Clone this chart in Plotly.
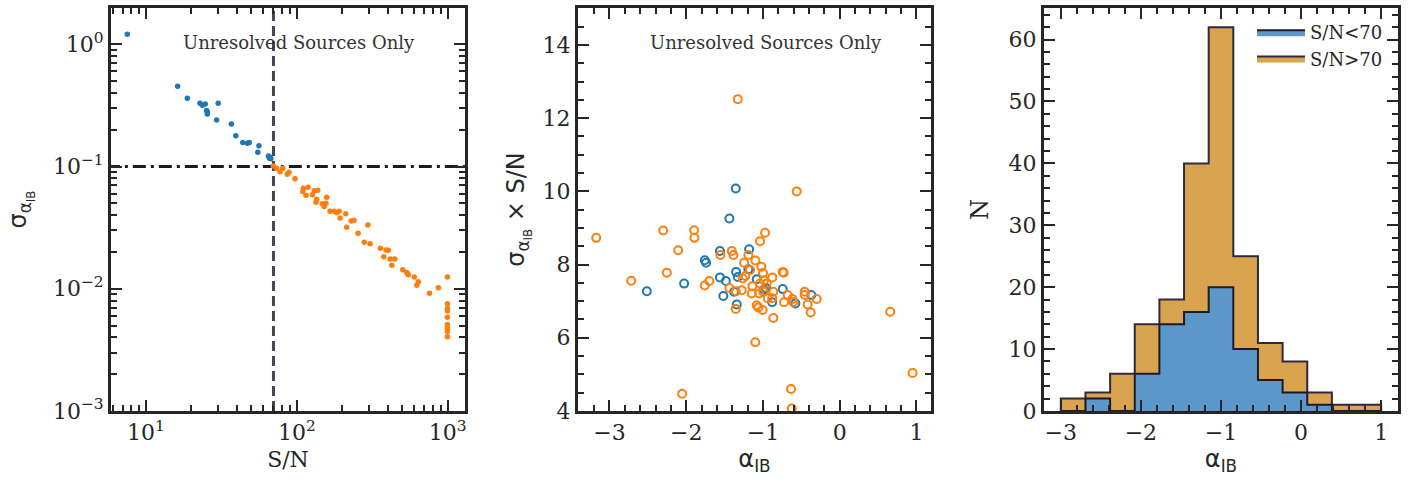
import numpy as np
import plotly.graph_objects as go

# ---------------- data ----------------
# Left panel: S/N vs sigma_alpha_IB
sn_low = [7.52, 16.2, 18.8, 22.8, 23.6, 24.7, 25.2, 25.5, 25.5, 30.1, 29.4, 36.8, 39.4, 43.8,
          47.0, 48.4, 56.1, 55.1, 64.8, 65.9, 67.3, 66.5]
sig_low = [1.21, 0.454, 0.362, 0.33, 0.317, 0.325, 0.288, 0.269, 0.28, 0.33, 0.240, 0.223, 0.179,
           0.157, 0.155, 0.157, 0.148, 0.131, 0.122, 0.117, 0.116, 0.119]
sn_high = [69.8, 73.5, 77.4, 80.7, 86.5, 88.7, 97.2, 110.5, 109.5, 118.6, 115, 126.8, 130.7, 137.6,
           135.5, 134, 157.8, 147.6, 152, 156, 166, 177, 184, 190.6, 193.6, 211, 214, 229, 239,
           254.5, 296, 280, 306, 358, 390, 404, 377, 415, 446, 426, 504, 535, 549, 542, 601, 624,
           639, 757, 868, 996, 996, 996, 996, 996, 996, 996, 996, 996]
sig_high = [0.101, 0.0968, 0.0908, 0.0968, 0.0865, 0.0898, 0.0796, 0.0665, 0.0624, 0.0677, 0.0582,
            0.0589, 0.0635, 0.064, 0.054, 0.051, 0.0561, 0.0497, 0.047, 0.05, 0.0431, 0.043, 0.0418,
            0.043, 0.038, 0.041, 0.0319, 0.0359, 0.0363, 0.0285, 0.0333, 0.0240, 0.0233, 0.0215,
            0.0208, 0.0207, 0.0183, 0.0175, 0.0175, 0.0156, 0.0143, 0.0136, 0.013, 0.0133, 0.0125,
            0.0107, 0.0114, 0.0092, 0.0102, 0.0125, 0.00753, 0.0069, 0.0066, 0.00586, 0.0051,
            0.00476, 0.00447, 0.00405]

sn_cut = 70
sig_cut = 0.1

# Middle panel: alpha_IB vs sigma*S/N
a_low = [-1.354, -1.437, -1.56, -1.18, -1.758, -1.741, -1.35, -1.19, -2.513, -2.027, -1.56, -1.484,
         -1.328, -1.376, -1.516, -1.341, -1.081, -0.986, -0.96, -0.88, -0.742, -0.578, -0.37]
s_low = [10.08, 9.26, 8.37, 8.42, 8.12, 8.05, 7.80, 7.87, 7.27, 7.48, 7.65, 7.55, 7.66, 7.26, 7.14,
         6.91, 7.60, 7.32, 7.36, 6.97, 7.33, 6.94, 7.17]
a_high = [-1.328, -0.56, -3.173, -2.30, -1.897, -1.893, -0.973, -1.038, -2.105, -1.406, -1.555,
          -1.385, -1.19, -1.246, -1.099, -1.168, -1.021, -0.999, -0.742, -0.73, -2.253, -2.717,
          -1.758, -1.698, -1.263, -1.229, -1.276, -1.354, -1.437, -1.354, -1.138, -1.146, -1.038,
          -0.986, -0.951, -0.995, -1.05, -0.878, -0.865, -0.937, -0.88, -1.081, -1.06, -1.003,
          -0.865, -1.099, -0.677, -0.725, -0.617, -0.604, -0.456, -0.456, -0.30, -0.417, -0.378,
          0.659, 0.95, -0.634, -2.053, -0.625]
s_high = [12.52, 10.0, 8.73, 8.93, 8.94, 8.73, 8.87, 8.64, 8.39, 8.37, 8.26, 8.26, 8.26, 8.05, 8.11,
          7.85, 7.94, 7.77, 7.80, 7.78, 7.78, 7.56, 7.43, 7.55, 7.62, 7.69, 7.30, 7.27, 7.36, 6.79,
          7.41, 7.21, 7.48, 7.57, 7.48, 7.26, 7.21, 7.65, 7.26, 7.08, 7.08, 6.89, 6.83, 6.76, 6.54,
          5.88, 7.17, 6.97, 7.06, 6.98, 7.26, 7.17, 7.06, 6.91, 6.69, 6.71, 5.04, 4.60, 4.47, 4.07]

# Right panel: histogram of alpha_IB (13 bins from -3 to 1)
bin_lo, bin_hi, n_bins = -3.0, 1.0, 13
counts_total = [2, 3, 6, 14, 18, 40, 62, 25, 11, 8, 3, 1, 1]
counts_low = [0, 2, 0, 6, 14, 16, 20, 10, 5, 3, 1, 0, 0]

# ---------------- styling ----------------
BLUE = "#1f77b4"
ORANGE = "#ff7f0e"
FRAME = "#262626"
SERIF = "DejaVu Serif"
SANS = "DejaVu Sans"
W, H = 1425, 483

def px_x(a, b):
    return [a / W, b / W]

def px_y(top, bottom):
    return [1 - bottom / H, 1 - top / H]

fig = go.Figure()

# Left panel
fig.add_trace(go.Scatter(x=[sn_cut, sn_cut], y=[1e-3, 2.0], mode="lines",
                         line=dict(color="#4a4456", width=3, dash="10px,5px"),
                         showlegend=False, xaxis="x", yaxis="y", hoverinfo="skip"))
fig.add_trace(go.Scatter(x=[5.5, 1400], y=[sig_cut, sig_cut], mode="lines",
                         line=dict(color="#1c1a28", width=3, dash="13px,5px,3px,5px"),
                         showlegend=False, xaxis="x", yaxis="y", hoverinfo="skip"))
fig.add_trace(go.Scatter(x=sn_low, y=sig_low, mode="markers",
                         marker=dict(color=BLUE, size=5.5, line=dict(width=0)),
                         showlegend=False, xaxis="x", yaxis="y"))
fig.add_trace(go.Scatter(x=sn_high, y=sig_high, mode="markers",
                         marker=dict(color=ORANGE, size=5.5, line=dict(width=0)),
                         showlegend=False, xaxis="x", yaxis="y"))

# Middle panel
fig.add_trace(go.Scatter(x=a_low, y=s_low, mode="markers",
                         marker=dict(symbol="circle-open", color=BLUE, size=8, line=dict(width=2)),
                         showlegend=False, xaxis="x2", yaxis="y2"))
fig.add_trace(go.Scatter(x=a_high, y=s_high, mode="markers",
                         marker=dict(symbol="circle-open", color=ORANGE, size=8, line=dict(width=2)),
                         showlegend=False, xaxis="x2", yaxis="y2"))

# Right panel: stepfilled histograms
edges = list(np.linspace(bin_lo, bin_hi, n_bins + 1))

def step_xy(counts):
    xs = [edges[0]] + edges + [edges[-1]]
    ys = [0] + list(counts) + [counts[-1], 0]
    return xs, ys

xs, ys = step_xy(counts_total)
fig.add_trace(go.Scatter(x=xs, y=ys, mode="lines", line=dict(shape="hv", color="#2e2a3c", width=2),
                         fill="toself", fillcolor="#d9a350", name="S/N>70", legendrank=2,
                         xaxis="x3", yaxis="y3"))
xs, ys = step_xy(counts_low)
fig.add_trace(go.Scatter(x=xs, y=ys, mode="lines", line=dict(shape="hv", color="#1c1a28", width=2),
                         fill="toself", fillcolor="#5b97c8", name="S/N<70", legendrank=1,
                         xaxis="x3", yaxis="y3"))

axis_common = dict(showline=True, linewidth=3, linecolor=FRAME, mirror="allticks",
                   ticks="inside", ticklen=11, tickwidth=2, tickcolor=FRAME,
                   showgrid=False, zeroline=False, automargin=False,
                   tickfont=dict(family=SERIF, size=22, color="#262626"))
minor_common = dict(ticks="inside", ticklen=6, tickwidth=1.5, tickcolor=FRAME, showgrid=False)

def log_minor(lo, hi):
    vals = []
    for d in range(lo, hi):
        for m in range(2, 10):
            vals.append(m * 10.0 ** d)
    return vals

fig.update_layout(
    width=W, height=H, margin=dict(l=0, r=0, t=0, b=0, autoexpand=False),
    paper_bgcolor="white", plot_bgcolor="white",
    font=dict(family=SERIF, color="#262626"),
    xaxis=dict(axis_common, domain=px_x(111, 465), type="log", range=[np.log10(5.86), np.log10(1303)],
               tickmode="array", tickvals=[10, 100, 1000],
               ticktext=["10<sup>1</sup>", "10<sup>2</sup>", "10<sup>3</sup>"],
               minor=dict(minor_common, tickmode="array", tickvals=log_minor(0, 4)),
               title=dict(text="S/N", font=dict(family=SERIF, size=22), standoff=8)),
    yaxis=dict(axis_common, domain=px_y(8, 411), type="log", range=[-3, 0.297],
               tickmode="array", tickvals=[1e-3, 1e-2, 1e-1, 1],
               ticktext=["10<sup>−3</sup>", "10<sup>−2</sup>", "10<sup>−1</sup>", "10<sup>0</sup>"],
               minor=dict(minor_common, tickmode="array", tickvals=log_minor(-3, 1)),
               title=dict(text="σ<sub>α<sub>IB</sub></sub>", font=dict(family=SANS, size=24), standoff=20)),
    xaxis2=dict(axis_common, domain=px_x(578, 931), range=[-3.41, 1.19], anchor="y2",
                tickmode="array", tickvals=[-3, -2, -1, 0, 1], ticktext=["−3", "−2", "−1", "0", "1"],
                minor=dict(minor_common, dtick=0.2, tick0=0),
                title=dict(text="α<sub>IB</sub>", font=dict(family=SANS, size=24), standoff=6)),
    yaxis2=dict(axis_common, domain=px_y(8, 411), range=[4, 15.01], anchor="x2",
                tickmode="array", tickvals=[4, 6, 8, 10, 12, 14],
                minor=dict(minor_common, dtick=0.5, tick0=0),
                title=dict(text="σ<sub>α<sub>IB</sub></sub> × S/N", font=dict(family=SANS, size=24), standoff=12)),
    xaxis3=dict(axis_common, domain=px_x(1044, 1398), range=[-3.21, 1.21], anchor="y3",
                tickmode="array", tickvals=[-3, -2, -1, 0, 1], ticktext=["−3", "−2", "−1", "0", "1"],
                minor=dict(minor_common, dtick=0.2, tick0=0),
                title=dict(text="α<sub>IB</sub>", font=dict(family=SANS, size=24), standoff=6)),
    yaxis3=dict(axis_common, domain=px_y(8, 411), range=[0, 65.1], anchor="x3",
                tickmode="array", tickvals=[0, 10, 20, 30, 40, 50, 60],
                minor=dict(minor_common, dtick=2, tick0=0),
                title=dict(text="N", font=dict(family=SERIF, size=24), standoff=14)),
    legend=dict(x=1252 / W, y=1 - 14 / H, xanchor="left", yanchor="top", bgcolor="rgba(0,0,0,0)",
                font=dict(family=SERIF, size=18, color="#262626"), tracegroupgap=2,
                itemwidth=48),
    annotations=[
        dict(text="Unresolved Sources Only", x=299 / W, y=1 - 43 / H, xref="paper", yref="paper",
             xanchor="center", yanchor="middle",
             showarrow=False, font=dict(family=SERIF, size=18, color="#333333")),
        dict(text="Unresolved Sources Only", x=766 / W, y=1 - 43 / H, xref="paper", yref="paper",
             xanchor="center", yanchor="middle",
             showarrow=False, font=dict(family=SERIF, size=18, color="#333333")),
    ],
)

fig.write_html("out.html")
